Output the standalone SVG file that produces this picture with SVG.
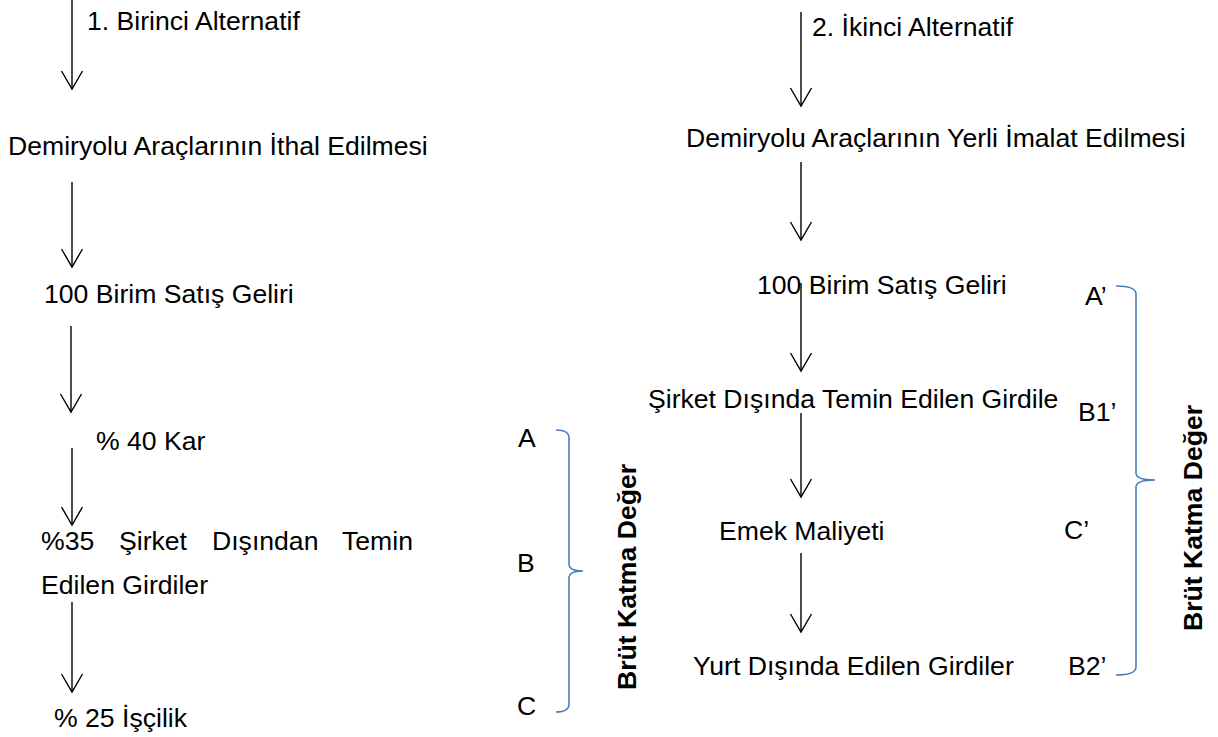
<svg xmlns="http://www.w3.org/2000/svg" width="1218" height="737" viewBox="0 0 1218 737">
<defs>
<style>
text{font-family:"Liberation Sans",Arial,sans-serif;font-size:26.6px;fill:#000}
.b{font-weight:bold}
.ln{stroke:#000;stroke-width:1.4;fill:none}
.br{stroke:#4a7ebb;stroke-width:1.6;fill:none}
</style>
<marker id="ah" viewBox="-20 -12 22 24" markerWidth="22" markerHeight="24" refX="0" refY="0" markerUnits="userSpaceOnUse" orient="auto" overflow="visible">
<path d="M-18,-10.5 L0,0 L-18,10.5" fill="none" stroke="#000" stroke-width="1.4"/>
</marker>
</defs>
<rect width="1218" height="737" fill="#fff"/>

<g id="left-column">
<g id="n-alt1"><text x="87" y="30">1. Birinci Alternatif</text></g>
<g id="n-ithal"><text x="8" y="155">Demiryolu Araçlarının İthal Edilmesi</text></g>
<g id="n-satis1"><text x="44" y="303">100 Birim Satış Geliri</text></g>
<g id="n-kar"><text x="96" y="450">% 40 Kar</text></g>
<g id="n-girdi1"><text y="550"><tspan x="41">%35</tspan><tspan x="119">Şirket</tspan><tspan x="212">Dışından</tspan><tspan x="342">Temin</tspan></text><text x="41" y="594">Edilen Girdiler</text></g>
<g id="n-iscilik"><text x="54" y="727">% 25 İşçilik</text></g>
<g id="n-labels1"><text x="518" y="447">A</text><text x="517" y="572">B</text><text x="517" y="715">C</text></g>
<g id="n-bkd1"><text class="b" transform="translate(636,577) rotate(-90)" text-anchor="middle">Brüt Katma Değer</text></g>
</g>

<g id="right-column">
<g id="n-alt2"><text x="812" y="36">2. İkinci Alternatif</text></g>
<g id="n-yerli"><text x="686" y="147">Demiryolu Araçlarının Yerli İmalat Edilmesi</text></g>
<g id="n-satis2"><text x="757" y="294">100 Birim Satış Geliri</text></g>
<g id="n-girdi2"><text x="648" y="408">Şirket Dışında Temin Edilen Girdile</text></g>
<g id="n-emek"><text x="719" y="540">Emek Maliyeti</text></g>
<g id="n-yurtdisi"><text x="693" y="675">Yurt Dışında Edilen Girdiler</text></g>
<g id="n-labels2"><text x="1085" y="305">A’</text><text x="1078" y="421">B1’</text><text x="1064" y="539">C’</text><text x="1068" y="675">B2’</text></g>
<g id="n-bkd2"><text class="b" transform="translate(1202,518) rotate(-90)" text-anchor="middle">Brüt Katma Değer</text></g>
</g>

<g id="connectors">
<line class="ln" x1="72" y1="0" x2="72" y2="89" marker-end="url(#ah)"/>
<line class="ln" x1="72" y1="182" x2="72" y2="267" marker-end="url(#ah)"/>
<line class="ln" x1="71" y1="326" x2="71" y2="412" marker-end="url(#ah)"/>
<line class="ln" x1="72" y1="448" x2="72" y2="525" marker-end="url(#ah)"/>
<line class="ln" x1="72" y1="602" x2="72" y2="692" marker-end="url(#ah)"/>
<line class="ln" x1="801" y1="12" x2="801" y2="106" marker-end="url(#ah)"/>
<line class="ln" x1="801" y1="162" x2="801" y2="240" marker-end="url(#ah)"/>
<line class="ln" x1="801" y1="283" x2="801" y2="371" marker-end="url(#ah)"/>
<line class="ln" x1="801" y1="413" x2="801" y2="497" marker-end="url(#ah)"/>
<line class="ln" x1="801" y1="553" x2="801" y2="632" marker-end="url(#ah)"/>
<path class="br" d="M556,430 Q569,430 569,438 L569,564 Q569,571 583,571 Q569,571 569,578 L569,704 Q569,712 556,712"/>
<path class="br" d="M1116,286 Q1136,286 1136,294 L1136,473 Q1136,480 1155,480 Q1136,480 1136,487 L1136,667 Q1136,675 1116,675"/>
</g>
</svg>
